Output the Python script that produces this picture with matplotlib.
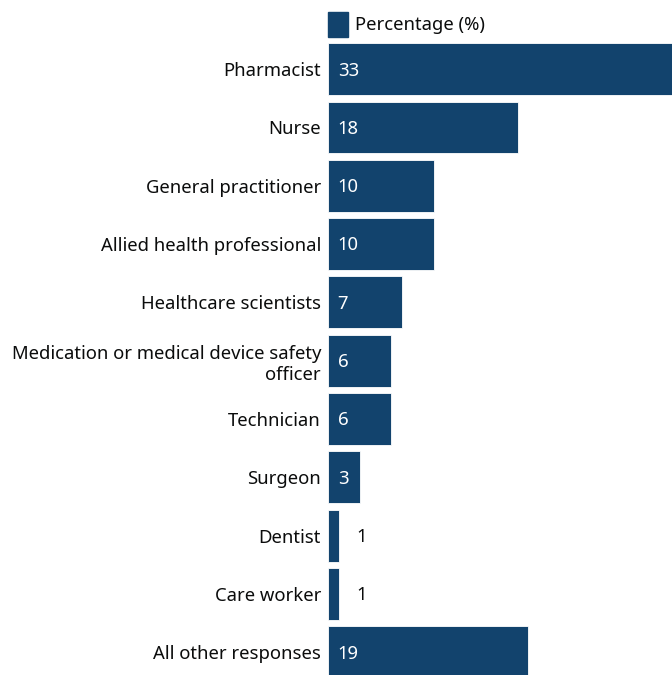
import matplotlib
matplotlib.use("Agg")
import matplotlib.pyplot as plt
from matplotlib.patches import Rectangle

plt.rcParams['font.family'] = ['Noto Sans', 'DejaVu Sans']

roles = ["Pharmacist", "Nurse", "General practitioner", "Allied health professional",
         "Healthcare scientists", "Medication or medical device safety\nofficer",
         "Technician", "Surgeon", "Dentist", "Care worker", "All other responses"]
percent = [33, 18, 10, 10, 7, 6, 6, 3, 1, 1, 19]

navy = "#12436D"
txt = "#0b0c0c"
fs = 13.3

W, H = 672, 675
fig = plt.figure(figsize=(W / 100, H / 100), dpi=100)
ax = fig.add_axes([328 / W, 0, 1 - 328 / W, 1 - 40 / H])

pos = list(range(len(roles)))
ax.barh(pos, percent, height=0.89, color=navy, edgecolor="white", linewidth=0.6)
ax.set_xlim(0, 32.6)
ax.set_ylim(10.39, -0.5)
ax.set_yticks(pos)
ax.set_yticklabels(roles, fontsize=fs, color=txt, linespacing=1.25)
ax.tick_params(axis="y", length=0, pad=5)
ax.tick_params(axis="x", bottom=False, labelbottom=False)
for s in ax.spines.values():
    s.set_visible(False)

for y, v in zip(pos, percent):
    if v >= 3:
        ax.annotate(str(v), (0, y), xytext=(7, -1), textcoords="offset points",
                    va="center", ha="left", color="white", fontsize=fs)
    else:
        ax.annotate(str(v), (v, y), xytext=(13, -1), textcoords="offset points",
                    va="center", ha="left", color=txt, fontsize=fs)

# legend
fig.patches.append(Rectangle((328 / W, 1 - 37 / H), 20 / W, 25 / H,
                             transform=fig.transFigure, color=navy))
fig.text(355 / W, 1 - 25 / H, "Percentage (%)", fontsize=fs, color=txt,
         va="center", ha="left")

fig.savefig("out.png", dpi=100)
